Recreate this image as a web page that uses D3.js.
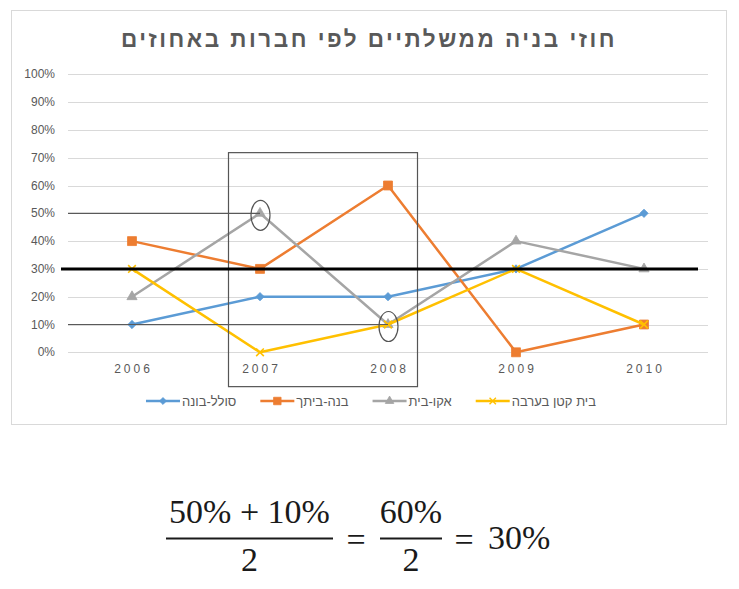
<!DOCTYPE html>
<html lang="he">
<head>
<meta charset="UTF-8">
<title>חוזי בניה ממשלתיים לפי חברות באחוזים</title>
<script src="https://cdn.jsdelivr.net/npm/d3@7"></script>
<style>
  body { margin: 0; background: #fff; }
  svg { display: block; font-family: 'Liberation Sans', 'DejaVu Sans', sans-serif; }
</style>
</head>
<body>
<svg id="chart" width="739" height="589"></svg>
<script>
// data
var years       = ["2006", "2007", "2008", "2009", "2010"];
var seriesNames = ["סולל-בונה", "בנה-ביתך", "אקו-בית", "בית קטן בערבה"];
var solelBona   = [0.10, 0.20, 0.20, 0.30, 0.50];
var bneBeitcha  = [0.40, 0.30, 0.60, 0.00, 0.10];
var ekoBait     = [0.20, 0.50, 0.10, 0.40, 0.30];
var baitKatan   = [0.30, 0.00, 0.10, 0.30, 0.10];
var yTicks      = [0, 0.1, 0.2, 0.3, 0.4, 0.5, 0.6, 0.7, 0.8, 0.9, 1];
var markedYears = ["2007", "2008"];          // years framed in the box
var titleText   = "חוזי בניה ממשלתיים לפי חברות באחוזים";

var colors  = ["#5B9BD5", "#ED7D31", "#A5A5A5", "#FFC000"];
var symbols = [d3.symbolDiamond2, d3.symbolSquare, d3.symbolTriangle, d3.symbolX];
var symSize = [44, 80, 45, 40];

var svg = d3.select('#chart');

// chart frame
svg.append('rect').attr('x', 11.5).attr('y', 10.5).attr('width', 715).attr('height', 414)
   .attr('fill', '#fff').attr('stroke', '#d9d9d9').attr('stroke-width', 1);

svg.append('text').attr('x', 369).attr('y', 47).attr('text-anchor', 'middle')
   .attr('font-size', 22.5).attr('font-weight', 'bold').attr('fill', '#595959')
   .style('letter-spacing', '2.5px').text(titleText);

var x = d3.scaleBand().domain(years).range([68, 708]);
var y = d3.scaleLinear().domain([0, 1]).range([352.3, 74.3]);
var cx = function(d) { return x(d) + x.bandwidth() / 2; };

// gridlines
svg.append('g').selectAll('line').data(yTicks).join('line')
   .attr('x1', 68).attr('x2', 708)
   .attr('y1', function(d) { return Math.round(y(d)) + 0.5; })
   .attr('y2', function(d) { return Math.round(y(d)) + 0.5; })
   .attr('stroke', '#d9d9d9').attr('stroke-width', 1);

// y labels
svg.append('g').selectAll('text').data(yTicks).join('text')
   .attr('x', 55).attr('y', function(d) { return y(d) + 4; })
   .attr('text-anchor', 'end').attr('font-size', 12).attr('fill', '#595959')
   .text(d3.format('.0%'));

// x labels
svg.append('g').selectAll('text').data(years).join('text')
   .attr('x', function(d) { return cx(d) + 1.5; }).attr('y', 373)
   .attr('text-anchor', 'middle').attr('font-size', 12).attr('fill', '#595959')
   .style('letter-spacing', '3px').text(function(d) { return d; });

// series
var series = [solelBona, bneBeitcha, ekoBait, baitKatan];
var line = d3.line().x(function(d, i) { return cx(years[i]); }).y(function(d) { return y(d); });

series.forEach(function(vals, s) {
  var g = svg.append('g');
  g.append('path').attr('d', line(vals)).attr('fill', 'none')
   .attr('stroke', colors[s]).attr('stroke-width', 2.5).attr('stroke-linejoin', 'round');
  g.selectAll('path.m').data(vals).join('path').attr('class', 'm')
   .attr('transform', function(d, i) { return 'translate(' + cx(years[i]) + ',' + y(d) + ')'; })
   .attr('d', d3.symbol().type(symbols[s]).size(symSize[s]))
   .attr('fill', s === 3 ? 'none' : colors[s])
   .attr('stroke', colors[s]).attr('stroke-width', s === 3 ? 1.6 : 0.8);
});

// annotations: the two marked points of אקו-בית and their average
var marked = markedYears.map(function(yr) { return { year: yr, v: ekoBait[years.indexOf(yr)] }; });
var avg = d3.mean(marked, function(d) { return d.v; });

svg.append('rect')
   .attr('x', cx(markedYears[0]) - 31.5).attr('y', y(0.72) + 0.5)
   .attr('width', cx(markedYears[1]) - cx(markedYears[0]) + 61).attr('height', 234)
   .attr('fill', 'none').attr('stroke', '#555').attr('stroke-width', 1.2);

svg.append('g').selectAll('line').data(marked).join('line')
   .attr('x1', 68).attr('x2', function(d) { return cx(d.year); })
   .attr('y1', function(d) { return y(d.v); }).attr('y2', function(d) { return y(d.v); })
   .attr('stroke', '#595959').attr('stroke-width', 1.2);

svg.append('g').selectAll('ellipse').data(marked).join('ellipse')
   .attr('cx', function(d) { return cx(d.year) + 0.5; })
   .attr('cy', function(d) { return y(d.v) + 2; })
   .attr('rx', 9.5).attr('ry', 15)
   .attr('fill', 'none').attr('stroke', '#555').attr('stroke-width', 1.2);

svg.append('line').attr('x1', 61).attr('x2', 698)
   .attr('y1', y(avg)).attr('y2', y(avg))
   .attr('stroke', '#000').attr('stroke-width', 3);

// legend
var legend = svg.append('g');
var lx = 0;
seriesNames.forEach(function(name, s) {
  var item = legend.append('g').attr('transform', 'translate(' + lx + ',0)');
  item.append('line').attr('x1', 0).attr('x2', 34).attr('y1', 0).attr('y2', 0)
      .attr('stroke', colors[s]).attr('stroke-width', 2.5);
  item.append('path').attr('transform', 'translate(17,0)')
      .attr('d', d3.symbol().type(symbols[s]).size(symSize[s] * 0.7))
      .attr('fill', s === 3 ? 'none' : colors[s])
      .attr('stroke', colors[s]).attr('stroke-width', s === 3 ? 1.4 : 0.8);
  var t = item.append('text').attr('x', 36).attr('y', 4.5).attr('font-size', 13)
      .attr('fill', '#595959').text(name);
  lx += 36 + t.node().getComputedTextLength() + 24;
});
var lw = lx - 24;
legend.attr('transform', 'translate(' + (371 - lw / 2) + ',401)');

// formula under the chart
var formula = svg.append('g').attr('font-family', "'Liberation Serif', 'DejaVu Serif', serif")
   .attr('font-size', 34).attr('fill', '#1a1a1a');
var pct = d3.format('.0%');
var fracs = [
  { num: pct(marked[0].v) + ' + ' + pct(marked[1].v), den: String(marked.length), x0: 166, x1: 333 },
  { num: pct(d3.sum(marked, function(d) { return d.v; })), den: String(marked.length), x0: 380, x1: 442 }
];
fracs.forEach(function(f) {
  var mid = (f.x0 + f.x1) / 2;
  formula.append('text').attr('x', mid).attr('y', 523).attr('text-anchor', 'middle').text(f.num);
  formula.append('rect').attr('x', f.x0).attr('y', 537.5).attr('width', f.x1 - f.x0).attr('height', 2);
  formula.append('text').attr('x', mid).attr('y', 571).attr('text-anchor', 'middle').text(f.den);
});
formula.append('text').attr('x', 356).attr('y', 551).attr('text-anchor', 'middle').text('=');
formula.append('text').attr('x', 464).attr('y', 551).attr('text-anchor', 'middle').text('=');
formula.append('text').attr('x', 488).attr('y', 549).text(pct(avg));
</script>
</body>
</html>
